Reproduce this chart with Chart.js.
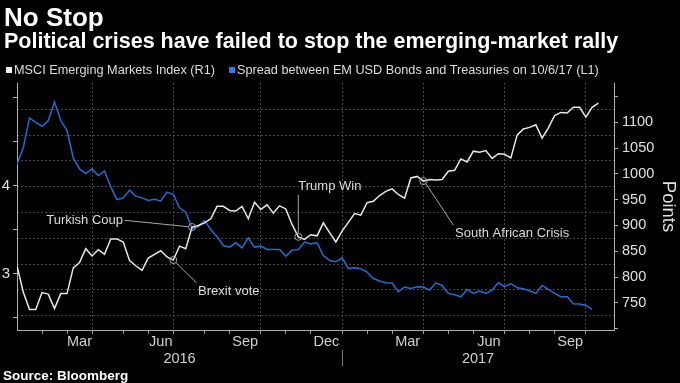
<!DOCTYPE html>
<html>
<head>
<meta charset="utf-8">
<title>No Stop</title>
<script src="https://cdn.jsdelivr.net/npm/chart.js@4.4.0/dist/chart.umd.min.js"></script>
<style>
    html, body { margin: 0; padding: 0; background: #000; }
    #wrap { position: relative; width: 680px; height: 383px; overflow: hidden; font-family: 'Liberation Sans', Arial, sans-serif; }
    #chart { position: absolute; left: 0; top: 0; }
    .title { position: absolute; left: 4px; top: 4px; font-size: 26px; line-height: 26px; font-weight: bold; color: #fff; white-space: nowrap; }
    .subtitle { position: absolute; left: 4px; top: 31px; font-size: 21.5px; line-height: 21.5px; font-weight: bold; color: #fff; white-space: nowrap; }
    .legend { position: absolute; left: 6px; top: 63px; font-size: 12.7px; line-height: 14px; color: #ddd; white-space: nowrap; }
    .legend .box { display: inline-block; width: 6px; height: 6px; margin-right: 2px; vertical-align: 1px; }
    .legend .item2 { margin-left: 14px; }
    .source { position: absolute; left: 3px; top: 369px; font-size: 13.5px; line-height: 14px; font-weight: bold; color: #fff; white-space: nowrap; }
</style>
</head>
<body>
<div id="wrap">
    <canvas id="chart" width="680" height="383"></canvas>
    <div class="title">No Stop</div>
    <div class="subtitle">Political crises have failed to stop the emerging-market rally</div>
    <div class="legend">
        <span class="box" style="background:#f2f2f2"></span>MSCI Emerging Markets Index (R1)<span class="item2"><span class="box" style="background:#2a7fe6"></span>Spread between EM USD Bonds and Treasuries on 10/6/17 (L1)</span>
    </div>
    <div class="source">Source: Bloomberg</div>
</div>
<script>
// بيانات أسبوعية تبدأ من 2016-01-01
const msciIndex = [
    822, 771, 737, 737, 770, 767, 739, 768, 768, 818,
    828, 855, 841, 853, 844, 874, 874, 868, 832, 822,
    813, 837, 844, 851, 839, 833, 860, 855, 897, 900,
    905, 913, 937, 937, 929, 928, 937, 913, 945, 931,
    940, 924, 938, 932, 902, 878, 873, 882, 880, 905,
    886, 868, 889, 906, 923, 920, 944, 947, 958, 966,
    971, 960, 953, 992, 995, 986, 989, 988, 989, 1005,
    1007, 1029, 1023, 1044, 1042, 1045, 1030, 1039, 1038, 1031,
    1075, 1087, 1090, 1095, 1069, 1089, 1113, 1119, 1118, 1129,
    1129, 1110, 1129, 1137
];
const emSpread = [
    4.24, 4.43, 4.77, 4.72, 4.675, 4.74, 4.95, 4.74, 4.625, 4.315,
    4.19, 4.136, 4.19, 4.114, 4.167, 3.985, 3.841, 3.86, 3.948, 3.88,
    3.86, 3.83, 3.845, 3.826, 3.925, 3.898, 3.747, 3.697, 3.511, 3.53,
    3.602, 3.5, 3.417, 3.318, 3.3, 3.349, 3.292, 3.406, 3.3, 3.311,
    3.273, 3.273, 3.273, 3.198, 3.266, 3.273, 3.357, 3.337, 3.349, 3.205,
    3.148, 3.133, 3.178, 3.057, 3.065, 3.053, 3.016, 2.943, 2.914, 2.894,
    2.891, 2.792, 2.845, 2.83, 2.849, 2.845, 2.811, 2.894, 2.864, 2.773,
    2.758, 2.735, 2.818, 2.773, 2.8, 2.773, 2.811, 2.894, 2.849, 2.886,
    2.837, 2.826, 2.803, 2.773, 2.864, 2.818, 2.773, 2.735, 2.735, 2.656,
    2.652, 2.636, 2.591
];

// آخر أسبوع في كل شهر (فهرس الأسبوع)
const monthEndWeeks = [4, 8, 12, 17, 21, 25, 30, 34, 39, 43, 47, 52, 56, 60, 65, 69, 73, 78, 82, 86, 91];
const quarterEndWeeks = [12, 25, 39, 52, 65, 78, 91];
const monthLabels = ['Mar', 'Jun', 'Sep', 'Dec', 'Mar', 'Jun', 'Sep'];
const yearLabels = ['2016', '2017'];
const yearStartWeeks = [0, 52];

const leftTickValues = [2.5, 3, 3.5, 4, 4.5, 5];
const leftTickLabels = [3, 4];
const rightTickValues = [700, 750, 800, 850, 900, 950, 1000, 1050, 1100, 1150];
const rightTickLabels = [750, 800, 850, 900, 950, 1000, 1050, 1100];

const events = [
    { label: 'Turkish Coup', week: 28 },
    { label: 'Brexit vote', week: 25 },
    { label: 'Trump Win', week: 45 },
    { label: 'South African Crisis', week: 65 }
];

// مواضع النصوص بالنسبة للنقطة
const noteStyle = {
    'Turkish Coup': { align: 'right', tx: -69, ty: -6.7, l0: [-3.5, -0.3], l1: [-67.4, -6.7] },
    'Brexit vote': { align: 'left', tx: 24.8, ty: 31, l0: [2.5, 2.5], l1: [23.2, 22.7] },
    'Trump Win': { align: 'left', tx: 0, ty: -50.3, l0: [0, -3.5], l1: [0, -42] },
    'South African Crisis': { align: 'left', tx: 31.7, ty: 52, l0: [2.5, 2.5], l1: [30, 44] }
};

const FONT = "'Liberation Sans', Arial, sans-serif";
const X_MIN = 0, X_MAX = 95.5;
const LEFT_MIN = 2.357, LEFT_MAX = 5.167;
const RIGHT_MIN = 697.5, RIGHT_MAX = 1176;

const monthMids = quarterEndWeeks.map(q => {
    const k = monthEndWeeks.indexOf(q);
    return (monthEndWeeks[k - 1] + q) / 2;
});
const yearMids = yearStartWeeks.map((w, i) => {
    const end = i + 1 < yearStartWeeks.length ? yearStartWeeks[i + 1] : X_MAX;
    return (Math.max(w, X_MIN) + end) / 2;
});
const gridValues = rightTickValues.slice(1).map((v, i) => (v + rightTickValues[i]) / 2);

const eventNotes = {
    id: 'eventNotes',
    afterDatasetsDraw(chart) {
        const ctx = chart.ctx;
        const pts = chart.getDatasetMeta(0).data;
        ctx.save();
        ctx.font = '13px ' + FONT;
        ctx.strokeStyle = '#a8a8a8';
        ctx.fillStyle = '#dcdcdc';
        ctx.lineWidth = 1;
        events.forEach(ev => {
            const p = pts[ev.week];
            const s = noteStyle[ev.label];
            ctx.beginPath();
            ctx.arc(p.x, p.y, 3.5, 0, Math.PI * 2);
            ctx.stroke();
            ctx.beginPath();
            ctx.moveTo(p.x + s.l0[0], p.y + s.l0[1]);
            ctx.lineTo(p.x + s.l1[0], p.y + s.l1[1]);
            ctx.stroke();
            ctx.textAlign = s.align;
            ctx.textBaseline = 'middle';
            ctx.fillText(ev.label, p.x + s.tx, p.y + s.ty);
        });
        ctx.restore();
    }
};

// الخط الفاصل بين السنوات
const yearDivider = {
    id: 'yearDivider',
    afterDraw(chart) {
        const ctx = chart.ctx;
        const xs = chart.scales.x;
        const ys = chart.scales.xy;
        ctx.save();
        ctx.strokeStyle = '#777';
        ctx.lineWidth = 1;
        yearStartWeeks.forEach(w => {
            if (w <= X_MIN) return;
            const px = Math.round(xs.getPixelForValue(w)) + 0.5;
            ctx.beginPath();
            ctx.moveTo(px, ys.top);
            ctx.lineTo(px, ys.bottom - 2);
            ctx.stroke();
        });
        ctx.restore();
    }
};

const tickFont = { family: FONT, size: 14.5 };

new Chart(document.getElementById('chart').getContext('2d'), {
    type: 'line',
    data: {
        datasets: [{
            label: 'MSCI Emerging Markets Index (R1)',
            data: msciIndex.map((v, i) => ({ x: i, y: v })),
            xAxisID: 'x',
            yAxisID: 'y1',
            borderColor: '#e8e8e8',
            borderWidth: 1.5,
            pointRadius: 0,
            tension: 0
        }, {
            label: 'Spread between EM USD Bonds and Treasuries on 10/6/17 (L1)',
            data: emSpread.map((v, i) => ({ x: i, y: v })),
            xAxisID: 'x',
            yAxisID: 'y',
            borderColor: '#1f6fd2',
            borderWidth: 1.5,
            pointRadius: 0,
            tension: 0
        }]
    },
    options: {
        responsive: false,
        animation: false,
        devicePixelRatio: 1,
        layout: { padding: { top: 83, left: 0, right: 0, bottom: 15 } },
        plugins: {
            legend: { display: false },
            tooltip: { enabled: false }
        },
        scales: {
            x: {
                type: 'linear', position: 'bottom', min: X_MIN, max: X_MAX, weight: 0,
                afterBuildTicks: s => { s.ticks = monthEndWeeks.map(v => ({ value: v })); },
                ticks: { display: false },
                grid: {
                    color: c => (c.tick && quarterEndWeeks.includes(c.tick.value)) ? '#4a4a4a' : 'rgba(0,0,0,0)',
                    tickColor: '#9a9a9a',
                    tickLength: 4
                },
                border: { color: '#b0b0b0', dash: [2, 2] },
                afterFit: s => { s.height = 3; }
            },
            xm: {
                type: 'linear', position: 'bottom', min: X_MIN, max: X_MAX, weight: 1,
                afterBuildTicks: s => { s.ticks = monthMids.map(v => ({ value: v })); },
                ticks: { color: '#d0d0d0', font: tickFont, padding: 0, maxRotation: 0, autoSkip: false,
                    callback: (v, i) => monthLabels[i] },
                grid: { display: false, drawTicks: false },
                border: { display: false },
                afterFit: s => { s.height = 17; }
            },
            xy: {
                type: 'linear', position: 'bottom', min: X_MIN, max: X_MAX, weight: 2,
                afterBuildTicks: s => { s.ticks = yearMids.map(v => ({ value: v })); },
                ticks: { color: '#d0d0d0', font: tickFont, padding: 0, maxRotation: 0, autoSkip: false,
                    callback: (v, i) => yearLabels[i] },
                grid: { display: false, drawTicks: false },
                border: { display: false },
                afterFit: s => { s.height = 18; }
            },
            y: {
                type: 'linear', position: 'left', min: LEFT_MIN, max: LEFT_MAX, weight: 0,
                afterBuildTicks: s => { s.ticks = leftTickValues.map(v => ({ value: v })); },
                ticks: { color: '#e0e0e0', font: { family: FONT, size: 15 }, padding: 3,
                    callback: v => leftTickLabels.includes(v) ? String(v) : '' },
                grid: { drawOnChartArea: false, tickColor: '#b0b0b0', tickLength: 4 },
                border: { color: '#b0b0b0' },
                afterFit: s => { s.width = 17; }
            },
            yg: {
                type: 'linear', position: 'left', min: RIGHT_MIN, max: RIGHT_MAX, weight: 1,
                afterBuildTicks: s => { s.ticks = gridValues.map(v => ({ value: v })); },
                ticks: { display: false },
                grid: { color: '#4a4a4a', drawTicks: false },
                border: { display: false, dash: [2, 2] },
                afterFit: s => { s.width = 0; }
            },
            y1: {
                type: 'linear', position: 'right', min: RIGHT_MIN, max: RIGHT_MAX,
                afterBuildTicks: s => { s.ticks = rightTickValues.map(v => ({ value: v })); },
                ticks: { color: '#e0e0e0', font: tickFont, padding: 4,
                    callback: v => rightTickLabels.includes(v) ? String(v) : '' },
                grid: { drawOnChartArea: false, tickColor: '#b0b0b0', tickLength: 4 },
                border: { color: '#b0b0b0' },
                title: { display: true, text: 'Points', color: '#e0e0e0', font: { family: FONT, size: 18.5 }, padding: { top: 1, bottom: 0 } },
                afterFit: s => { s.width = 66; }
            }
        }
    },
    plugins: [eventNotes, yearDivider]
});
</script>
</body>
</html>
